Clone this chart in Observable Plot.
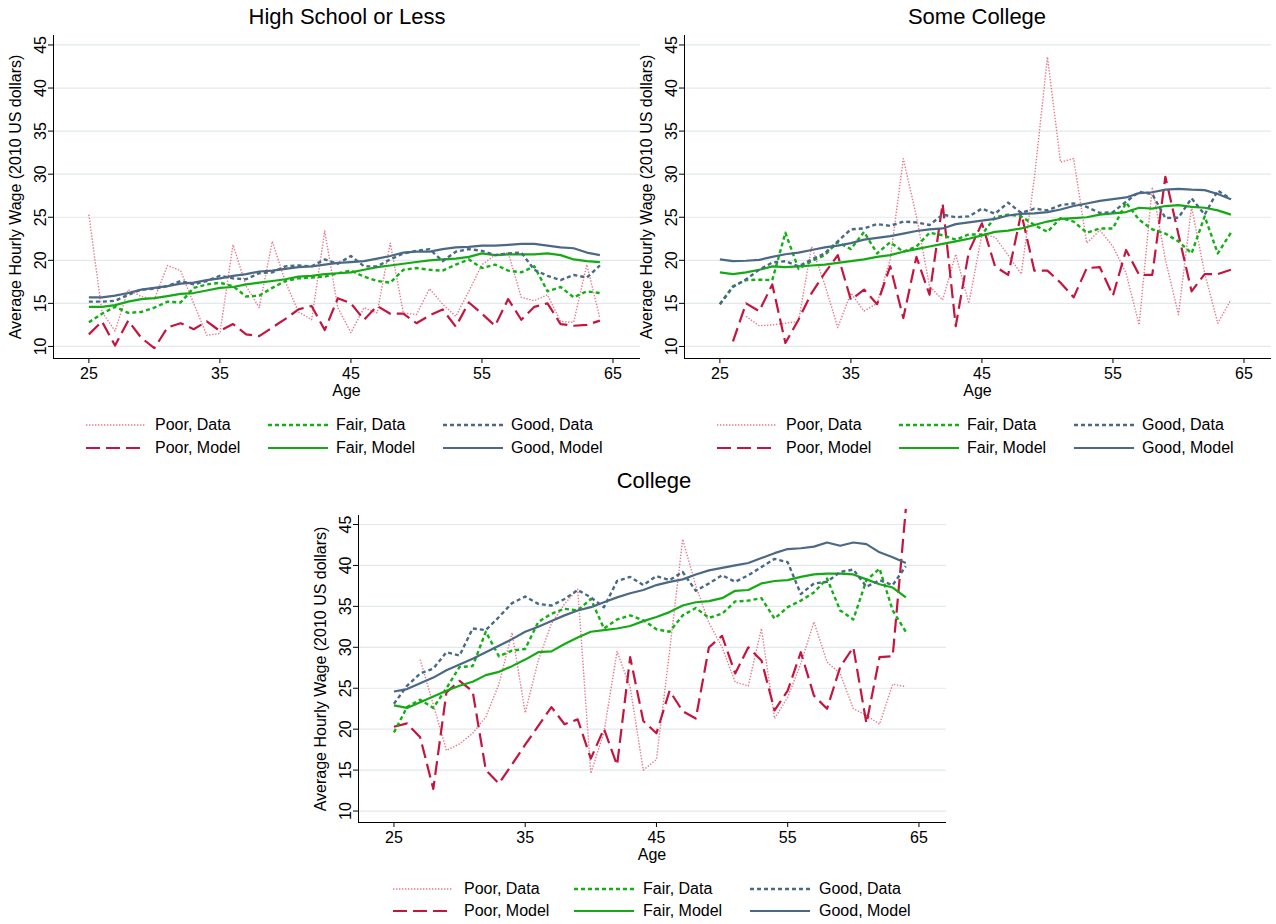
<!DOCTYPE html>
<html><head><meta charset="utf-8">
<script src="https://cdn.jsdelivr.net/npm/d3@7"></script>
<script src="https://cdn.jsdelivr.net/npm/@observablehq/plot@0.6"></script>
<style>
body{margin:0;background:#fff;}
#root{position:relative;width:1276px;height:924px;font-family:"Liberation Sans",Arial,Helvetica,sans-serif;color:#000;overflow:hidden;background:#fff;}
.t{position:absolute;white-space:nowrap;line-height:1;}
.p{position:absolute;}
svg{overflow:visible;}
</style></head><body><div id="root"></div>
<script>
const ages = d3.range(25, 65);
const seriesNames = ["Poor, Data","Poor, Model","Fair, Data","Fair, Model","Good, Data","Good, Model"];
const xTicks = [25,35,45,55,65];
const yTicks = [10,15,20,25,30,35,40,45];
const yTitle = "Average Hourly Wage (2010 US dollars)";
const xTitle = "Age";
const panelTitles = ["High School or Less","Some College","College"];

// High School or Less
const hsPoorData  = [25.3,14.0,11.8,16.6,15.8,15.5,19.4,18.8,15.0,11.3, 11.5,21.8,17.0,14.5,22.2,17.5,14.0,13.1,23.4,14.5, 11.6,14.5,13.9,22.0,13.9,13.7,16.7,14.9,13.5,16.4, 19.5,20.6,20.9,15.7,15.3,16.0,12.9,12.8,19.5,13.3];
const hsPoorModel = [11.4,12.9,10.1,13.0,11.0,9.8,12.2,12.7,12.0,12.9, 11.8,12.6,11.4,11.2,12.2,13.2,14.3,14.7,11.9,15.6, 15.0,13.1,14.7,13.8,13.8,12.7,13.6,14.3,12.3,15.1, 13.8,12.4,15.5,13.1,14.6,15.0,12.6,12.4,12.5,13.0];
const hsFairData  = [12.8,13.8,14.6,13.9,14.0,14.5,15.2,15.1,16.8,17.2, 17.4,17.0,15.8,15.9,16.8,17.6,17.9,18.0,18.1,18.5, 18.8,18.1,17.6,17.4,18.9,19.1,18.9,18.8,19.5,20.1, 19.1,19.5,18.8,18.6,19.3,16.4,16.9,15.7,16.4,16.2];
const hsFairModel = [14.6,14.6,14.8,15.2,15.5,15.6,15.85,16.1,16.2,16.5, 16.8,16.9,17.2,17.4,17.6,17.8,18.1,18.2,18.4,18.5, 18.6,18.9,19.2,19.4,19.6,19.8,20.0,20.1,20.2,20.4, 20.8,20.6,20.7,20.7,20.7,20.8,20.6,20.1,19.9,19.8];
const hsGoodData  = [15.2,15.2,15.3,16.0,16.6,16.7,17.0,17.6,17.2,17.6, 18.2,17.9,17.8,18.5,18.6,19.3,19.4,19.3,20.1,19.6, 20.5,19.3,19.3,20.1,20.8,21.1,21.3,19.9,21.0,21.3, 21.1,20.6,20.8,20.9,18.9,18.2,17.7,18.3,18.0,19.4];
const hsGoodModel = [15.7,15.7,15.9,16.2,16.6,16.8,17.0,17.3,17.4,17.7, 17.9,18.2,18.4,18.7,18.8,19.0,19.2,19.3,19.5,19.7, 19.8,19.9,20.2,20.5,20.9,21.0,21.0,21.3,21.5,21.55, 21.7,21.7,21.8,21.9,21.9,21.7,21.5,21.4,20.9,20.6];

// Some College
const scPoorData  = [null,null,13.5,12.4,12.5,12.7,12.9,21.6,17.2,12.2, 16.2,14.1,15.0,20.1,31.8,25.1,17.0,15.4,20.7,15.0, 23.0,22.7,20.6,18.4,29.5,43.6,31.4,31.8,22.0,23.5, 21.6,18.5,12.5,28.5,20.1,13.7,26.2,18.5,12.7,15.4];
const scPoorModel = [null,10.6,15.0,14.1,17.2,10.4,13.1,16.2,18.5,20.6, 15.4,16.6,14.9,19.3,13.3,20.4,16.0,26.6,12.35,21.0, 24.3,19.3,18.3,25.5,18.8,18.8,17.4,15.7,19.1,19.2, 15.9,21.2,18.3,18.3,29.7,23.0,16.4,18.4,18.4,18.9];
const scFairData  = [14.9,17.0,17.7,17.75,17.7,23.2,19.0,19.9,20.6,22.1, 21.3,23.3,20.8,22.1,21.0,21.6,23.2,22.9,22.4,23.0, 23.0,25.0,25.3,25.1,24.1,23.3,24.9,24.5,23.2,23.7, 23.7,26.7,24.7,23.6,23.1,22.2,20.8,25.1,20.8,23.2];
const scFairModel = [18.6,18.4,18.6,18.9,19.3,19.2,19.3,19.4,19.5,19.7, 19.9,20.1,20.4,20.6,21.0,21.3,21.6,21.9,22.2,22.5, 22.9,23.3,23.45,23.7,24.1,24.5,24.8,24.9,25.0,25.3, 25.45,25.6,26.1,26.0,26.3,26.4,26.2,26.1,25.8,25.3];
const scGoodData  = [14.9,16.9,17.8,18.9,19.75,19.9,19.3,20.1,20.8,22.2, 23.6,23.7,24.2,24.0,24.5,24.4,24.1,25.3,25.0,25.1, 26.0,25.4,26.7,25.5,26.0,25.8,26.4,26.6,26.2,25.5, 25.6,26.8,27.95,27.7,24.9,24.95,27.2,25.3,28.1,27.1];
const scGoodModel = [20.1,19.9,19.95,20.05,20.4,20.7,20.9,21.2,21.5,21.7, 22.0,22.4,22.6,22.8,23.1,23.4,23.6,23.7,24.2,24.4, 24.6,24.8,25.2,25.4,25.45,25.6,25.9,26.3,26.6,26.9, 27.1,27.3,27.8,27.9,28.2,28.3,28.2,28.15,27.7,27.1];

// College
const coPoorData  = [null,null,28.5,23.0,17.4,18.2,19.5,21.5,25.5,31.8, 22.0,28.4,32.9,35.3,37.1,14.6,19.6,29.5,25.1,15.0, 16.3,29.5,43.2,37.5,33.0,30.0,25.75,25.3,32.3,21.3, 23.9,28.0,33.1,28.2,26.8,22.5,21.7,20.6,25.5,25.2];
const coPoorModel = [20.3,20.7,19.0,12.7,24.5,25.9,24.6,15.0,13.35,15.7, 18.1,20.4,22.7,20.6,21.2,16.4,20.05,15.6,28.8,21.0, 19.5,24.7,22.2,21.3,30.0,31.4,26.8,30.0,28.4,22.3, 24.7,29.4,24.1,22.5,27.6,30.0,20.7,28.8,28.9,46.9];
const coFairData  = [19.6,22.7,23.6,22.6,25.0,27.6,27.7,31.9,28.9,29.6, 29.8,33.1,34.1,34.7,34.5,35.9,32.3,33.4,33.9,33.3, 32.2,31.9,33.9,34.8,33.6,34.1,35.6,35.7,36.0,33.5, 34.9,35.7,36.7,38.4,34.5,33.4,38.2,39.6,34.5,31.9];
const coFairModel = [22.9,22.6,23.3,24.0,24.7,25.3,25.8,26.6,27.0,27.7, 28.5,29.4,29.5,30.4,31.2,31.9,32.1,32.3,32.6,33.2, 33.7,34.3,35.1,35.5,35.65,36.0,36.9,37.0,37.8,38.1, 38.2,38.6,38.9,39.0,39.0,38.9,38.3,37.7,37.3,36.1];
const coGoodData  = [23.1,25.3,26.8,27.4,29.4,29.0,32.3,32.1,33.7,35.4, 36.2,35.3,35.1,35.9,37.0,36.1,34.9,38.1,38.6,37.6, 38.7,38.2,39.2,36.9,37.8,38.8,38.0,38.8,39.8,40.8, 40.4,36.5,37.8,38.0,39.2,39.5,37.4,38.2,37.6,39.9];
const coGoodModel = [24.6,24.9,25.6,26.3,27.2,27.9,28.6,29.4,30.2,31.0, 31.9,32.5,33.2,33.9,34.5,34.9,35.5,36.1,36.6,37.0, 37.6,38.0,38.3,38.9,39.4,39.7,40.0,40.3,40.9,41.5, 42.0,42.1,42.3,42.8,42.4,42.8,42.6,41.6,41.0,40.3];

const styles = [
  {stroke:"#e8788c", width:1.4, dash:"1.4,1.6"},
  {stroke:"#c5143e", width:2.2, dash:"14,6"},
  {stroke:"#12b012", width:2.4, dash:"4,3"},
  {stroke:"#14aa14", width:2.2, dash:null},
  {stroke:"#4a6985", width:2.4, dash:"4,3"},
  {stroke:"#4b6984", width:2.2, dash:null}
];

const root = document.getElementById("root");
const FONT = '"Liberation Sans",Arial,Helvetica,sans-serif';

function addText(str, x, baseline, size, anchor) {
  const d = document.createElement("div");
  d.className = "t";
  d.textContent = str;
  d.style.fontSize = size + "px";
  d.style.left = x + "px";
  d.style.top = (baseline - 0.8465 * size) + "px";
  if (anchor === "middle") d.style.transform = "translateX(-50%)";
  root.appendChild(d);
}
function addVText(str, bx, cy, size) {
  const d = document.createElement("div");
  d.className = "t";
  d.textContent = str;
  d.style.fontSize = size + "px";
  d.style.left = bx + "px";
  d.style.top = cy + "px";
  d.style.transformOrigin = "0 0";
  d.style.transform = "rotate(-90deg) translate(-50%, -0.8465em)";
  root.appendChild(d);
}
function addSample(x0, x1, cy, s) {
  const ns = "http://www.w3.org/2000/svg";
  const svg = document.createElementNS(ns, "svg");
  svg.setAttribute("width", x1 - x0);
  svg.setAttribute("height", 10);
  svg.style.position = "absolute";
  svg.style.left = x0 + "px";
  svg.style.top = (cy - 5) + "px";
  const ln = document.createElementNS(ns, "line");
  ln.setAttribute("x1", 0); ln.setAttribute("x2", x1 - x0);
  ln.setAttribute("y1", 5); ln.setAttribute("y2", 5);
  ln.setAttribute("stroke", s.stroke);
  ln.setAttribute("stroke-width", s.width);
  if (s.dash) ln.setAttribute("stroke-dasharray", s.dash);
  svg.appendChild(ln);
  root.appendChild(svg);
}

function makePanel(cfg) {
  const ML = 53, MT = 10, MR = 10, MB = 30;
  const xDom = [22.3, 67.1], yDom = [8.6, 46.1];
  const lines = cfg.data.map((arr, k) => {
    const rows = ages.map((a, i) => ({age: a, wage: arr[i]}));
    const s = styles[k];
    return Plot.line(rows, {x: "age", y: "wage", stroke: s.stroke, strokeWidth: s.width,
      strokeDasharray: s.dash || undefined, strokeLinecap: "butt", strokeLinejoin: "round"});
  });
  const chart = Plot.plot({
    width: ML + cfg.fw + MR,
    height: MT + cfg.fh + MB,
    marginLeft: ML, marginTop: MT, marginRight: MR, marginBottom: MB,
    style: {fontFamily: FONT, fontSize: "16px", color: "#000", background: "transparent", overflow: "visible"},
    x: {domain: xDom},
    y: {domain: yDom},
    marks: [
      Plot.gridY(yTicks, {stroke: "#e2e9ed", strokeOpacity: 1, strokeWidth: 1.2}),
      ...lines,
      Plot.ruleX([xDom[0]], {stroke: "#000", strokeWidth: 1}),
      Plot.ruleY([yDom[0]], {stroke: "#000", strokeWidth: 1}),
      Plot.axisX(xTicks, {tickSize: 5, tickPadding: 4, label: null, fontSize: 16, stroke: "#000"}),
      Plot.axisY(yTicks, {tickSize: 5, tickPadding: 3, tickRotate: -90, label: null, fontSize: 16, stroke: "#000"})
    ]
  });
  chart.classList.add("p");
  chart.style.left = (cfg.fx - ML) + "px";
  chart.style.top = (cfg.fy - MT) + "px";
  root.appendChild(chart);

  const cx = cfg.fx + cfg.fw / 2;
  addText(cfg.title, cfg.titleX, cfg.titleBase, 22, "middle");
  addText(xTitle, cx, cfg.fy + cfg.fh + 38.5, 16, "middle");
  addVText(yTitle, cfg.fx - 31.5, cfg.fy + cfg.fh / 2, 16);

  // legend: 3 columns x 2 rows
  for (let k = 0; k < 6; k++) {
    const col = Math.floor(k / 2), row = k % 2;
    const cy = cfg.legRows[row];
    const sx = cfg.fx + cfg.legSample[col];
    addSample(sx, sx + 60, cy, styles[k]);
    addText(seriesNames[k], cfg.fx + cfg.legText[col], cy + 5.6, 16, "start");
  }
}

makePanel({title: panelTitles[0], fx: 53, fy: 35, fw: 587, fh: 323, titleX: 347, titleBase: 24.3,
  data: [hsPoorData, hsPoorModel, hsFairData, hsFairModel, hsGoodData, hsGoodModel],
  legRows: [425, 448], legSample: [33, 215, 390], legText: [102, 283, 458]});
makePanel({title: panelTitles[1], fx: 684, fy: 35, fw: 587, fh: 323, titleX: 977, titleBase: 24.3,
  data: [scPoorData, scPoorModel, scFairData, scFairModel, scGoodData, scGoodModel],
  legRows: [425, 448], legSample: [33, 215, 390], legText: [102, 283, 458]});
makePanel({title: panelTitles[2], fx: 358, fy: 515, fw: 588, fh: 307, titleX: 654, titleBase: 489,
  data: [coPoorData, coPoorModel, coFairData, coFairModel, coGoodData, coGoodModel],
  legRows: [889, 911], legSample: [35, 216, 392], legText: [106, 285, 461]});
</script></body></html>
